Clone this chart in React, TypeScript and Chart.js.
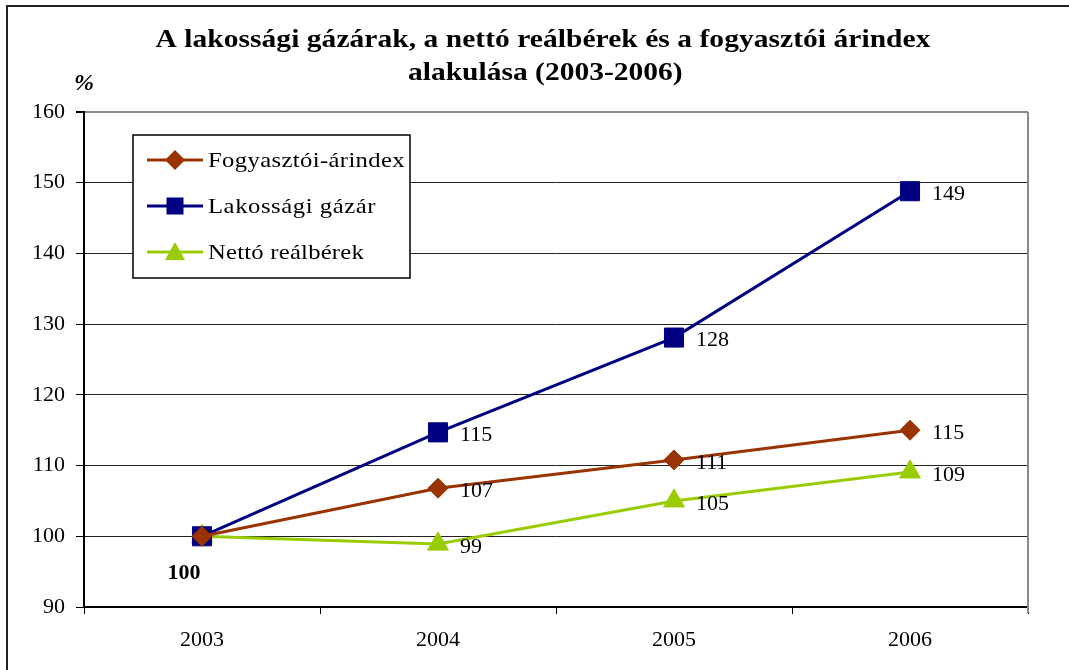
import React, { useEffect, useRef } from "react";
import { Chart, registerables } from "chart.js";

Chart.register(...registerables);

const categories = ["2003", "2004", "2005", "2006"];
const fogyasztoi = [100, 106.8, 110.8, 115.0];
const gazar = [100, 114.7, 128.1, 148.8];
const netto = [100, 98.9, 105.0, 109.1];
const seriesNames = ["Fogyasztói-árindex", "Lakossági gázár", "Nettó reálbérek"];
const titleLines = ["A lakossági gázárak, a nettó reálbérek és a fogyasztói árindex", "alakulása (2003-2006)"];
const yMin = 90;
const yMax = 160;
const yStep = 10;

const SERIF = "'Liberation Serif', 'Times New Roman', serif";

// draws text starting at left x, fitted to target width using a horizontal stretch plus spacing
function fitText(ctx: any, text: string, left: number, cy: number, target: number, stretch: number) {
  ctx.save();
  ctx.letterSpacing = "0px";
  const w = ctx.measureText(text).width;
  const sp = Math.max(0, (target / stretch - w) / text.length);
  ctx.letterSpacing = sp + "px";
  ctx.textAlign = "left";
  ctx.translate(left, cy);
  ctx.scale(stretch, 1);
  ctx.fillText(text, 0, 0);
  ctx.restore();
}

const decorPlugin = {
  id: "decor",
  afterDraw(chart: any) {
    const ctx = chart.ctx;
    const area = chart.chartArea;
    ctx.save();
    // outer frame
    ctx.strokeStyle = "#222";
    ctx.lineWidth = 2;
    ctx.strokeRect(7, 6, 1080, 700);
    // title
    ctx.fillStyle = "#000";
    ctx.font = "bold 25px " + SERIF;
    ctx.textBaseline = "middle";
    fitText(ctx, titleLines[0], 543 - 775 / 2, 41, 775, 1.18);
    fitText(ctx, titleLines[1], 545 - 274 / 2, 74, 274, 1.18);
    // % label
    ctx.font = "italic bold 24px " + SERIF;
    ctx.textAlign = "left";
    ctx.fillText("%", 74, 84);
    // right border of plot
    ctx.strokeStyle = "#888";
    ctx.lineWidth = 2;
    ctx.beginPath();
    ctx.moveTo(area.right, area.top);
    ctx.lineTo(area.right, area.bottom + 6);
    ctx.stroke();

    // data labels
    chart.data.datasets.forEach((ds: any, di: number) => {
      const meta = chart.getDatasetMeta(di);
      meta.data.forEach((pt: any, i: number) => {
        const v = Math.round(ds.data[i]);
        ctx.textBaseline = "middle";
        ctx.fillStyle = "#000";
        if (i === 0) {
          if (di !== 0) return;
          ctx.font = "bold 22px " + SERIF;
          ctx.textAlign = "center";
          ctx.fillText(String(v), pt.x - 18, pt.y + 37);
          return;
        }
        ctx.font = "22px " + SERIF;
        ctx.textAlign = "left";
        ctx.fillText(String(v), pt.x + 22, pt.y + 3);
      });
    });

    // legend box
    const lx = 133, ly = 135, lw = 277, lh = 143;
    ctx.fillStyle = "#fff";
    ctx.fillRect(lx, ly, lw, lh);
    ctx.strokeStyle = "#000";
    ctx.lineWidth = 1.5;
    ctx.strokeRect(lx, ly, lw, lh);
    const targets = [197, 168, 156];
    chart.data.datasets.forEach((ds: any, di: number) => {
      const cy = 160 + di * 46;
      ctx.strokeStyle = ds.borderColor;
      ctx.lineWidth = 3;
      ctx.beginPath();
      ctx.moveTo(147, cy);
      ctx.lineTo(203, cy);
      ctx.stroke();
      ctx.fillStyle = ds.pointBackgroundColor;
      const cx = 175;
      ctx.beginPath();
      if (ds.pointStyle === "rectRot") {
        const r = 10;
        ctx.moveTo(cx, cy - r);
        ctx.lineTo(cx + r, cy);
        ctx.lineTo(cx, cy + r);
        ctx.lineTo(cx - r, cy);
      } else if (ds.pointStyle === "rect") {
        const r = 8.5;
        ctx.rect(cx - r, cy - r, 2 * r, 2 * r);
      } else {
        const r = 10;
        ctx.moveTo(cx, cy - r);
        ctx.lineTo(cx + r, cy + r - 2);
        ctx.lineTo(cx - r, cy + r - 2);
      }
      ctx.closePath();
      ctx.fill();
      ctx.fillStyle = "#000";
      ctx.font = "22px " + SERIF;
      ctx.textBaseline = "middle";
      fitText(ctx, ds.label, 208, cy + 1, targets[di], 1.12);
    });
    ctx.restore();
  },
};

export default function App() {
  const ref = useRef<HTMLCanvasElement>(null);
  useEffect(() => {
    const prevMargin = document.body.style.margin;
    document.body.style.margin = "0";
    const chart = new Chart(ref.current!, {
      type: "line",
      data: {
        labels: categories,
        datasets: [
          {
            label: seriesNames[0],
            data: fogyasztoi,
            borderColor: "#993300",
            backgroundColor: "#993300",
            pointBackgroundColor: "#993300",
            pointBorderColor: "#993300",
            pointStyle: "rectRot",
            pointRadius: 10,
            pointBorderWidth: 1,
            borderWidth: 3,
            tension: 0,
          },
          {
            label: seriesNames[1],
            data: gazar,
            borderColor: "#000080",
            backgroundColor: "#000080",
            pointBackgroundColor: "#000080",
            pointBorderColor: "#000080",
            pointStyle: "rect",
            pointRadius: 13.5,
            pointBorderWidth: 1,
            borderWidth: 3,
            tension: 0,
          },
          {
            label: seriesNames[2],
            data: netto,
            borderColor: "#99CC00",
            backgroundColor: "#99CC00",
            pointBackgroundColor: "#99CC00",
            pointBorderColor: "#99CC00",
            pointStyle: "triangle",
            pointRadius: 12,
            pointBorderWidth: 1,
            borderWidth: 3,
            tension: 0,
          },
        ],
      },
      options: {
        animation: false,
        responsive: false,
        maintainAspectRatio: false,
        layout: { padding: { left: 0, top: 112, right: 41, bottom: 0 } },
        plugins: {
          legend: { display: false },
          title: { display: false },
          tooltip: { enabled: false },
        },
        scales: {
          x: {
            offset: true,
            afterFit: (s: any) => {
              s.height = 63;
            },
            grid: {
              offset: true,
              drawOnChartArea: false,
              drawTicks: true,
              tickLength: 7,
              color: "#000",
            },
            border: { display: true, color: "#000", width: 2 },
            ticks: {
              color: "#000",
              font: { family: SERIF, size: 22 },
              padding: 13,
              maxRotation: 0,
            },
          },
          y: {
            min: yMin,
            max: yMax,
            afterFit: (s: any) => {
              s.width = 84;
            },
            grid: {
              color: (c: any) => (c.tick && c.tick.value === yMax ? "#888" : "#222"),
              lineWidth: (c: any) => (c.tick && c.tick.value === yMax ? 2 : 1),
              tickLength: 8,
              tickColor: "#000",
            },
            border: { display: true, color: "#000", width: 2 },
            ticks: {
              stepSize: yStep,
              color: "#000",
              font: { family: SERIF, size: 22 },
              padding: 11,
            },
          },
        },
      },
      plugins: [decorPlugin],
    });
    return () => {
      chart.destroy();
      document.body.style.margin = prevMargin;
    };
  }, []);
  return (
    <div style={{ position: "absolute", left: 0, top: 0, width: 1069, height: 670, background: "#fff" }}>
      <canvas ref={ref} width={1069} height={670} style={{ display: "block" }} />
    </div>
  );
}
